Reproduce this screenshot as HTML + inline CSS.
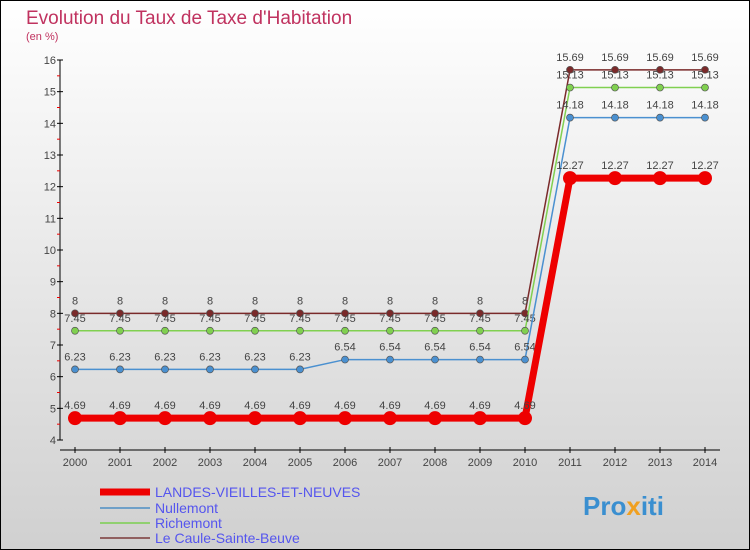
<!DOCTYPE html>
<html><head><meta charset="utf-8"><style>
body{margin:0}
#c{width:750px;height:550px;position:relative;overflow:hidden;font-family:"Liberation Sans",sans-serif}
</style></head><body>
<div id="c">
<svg id="s" width="750" height="550" xmlns="http://www.w3.org/2000/svg">
<defs><linearGradient id="bg" x1="0" y1="0" x2="0" y2="1"><stop offset="0" stop-color="#ffffff"/><stop offset="1" stop-color="#d0d0d0"/></linearGradient></defs>
<rect x="0.5" y="0.5" width="749" height="549" fill="url(#bg)" stroke="#000"/>
<text x="26" y="24" font-size="19" fill="#c0325f">Evolution du Taux de Taxe d'Habitation</text>
<text x="26" y="40" font-size="11" fill="#c0325f">(en %)</text>
<g id="plot"></g>
<g id="legend">
<line x1="100" y1="492" x2="150" y2="492" stroke="#e00" stroke-width="7"/>
<text x="155" y="497" font-size="14" fill="#5555ee">LANDES-VIEILLES-ET-NEUVES</text>
<line x1="100" y1="508" x2="150" y2="508" stroke="#6fa0c8" stroke-width="2"/>
<text x="155" y="513" font-size="14" fill="#5555ee">Nullemont</text>
<line x1="100" y1="523" x2="150" y2="523" stroke="#90d070" stroke-width="2"/>
<text x="155" y="528" font-size="14" fill="#5555ee">Richemont</text>
<line x1="100" y1="538" x2="150" y2="538" stroke="#906060" stroke-width="2"/>
<text x="155" y="543" font-size="14" fill="#5555ee">Le Caule-Sainte-Beuve</text>
</g>
<text x="583" y="515" font-size="26" font-weight="bold" fill="#3a8fd0">Pro<tspan fill="#f0a020">x</tspan>iti</text>
</svg>
</div>
<script>
const years=[2000,2001,2002,2003,2004,2005,2006,2007,2008,2009,2010,2011,2012,2013,2014];
const yTicks=[4,5,6,7,8,9,10,11,12,13,14,15,16];
const landes=[4.69,4.69,4.69,4.69,4.69,4.69,4.69,4.69,4.69,4.69,4.69,12.27,12.27,12.27,12.27];
const nullemont=[6.23,6.23,6.23,6.23,6.23,6.23,6.54,6.54,6.54,6.54,6.54,14.18,14.18,14.18,14.18];
const richemont=[7.45,7.45,7.45,7.45,7.45,7.45,7.45,7.45,7.45,7.45,7.45,15.13,15.13,15.13,15.13];
const caule=[8,8,8,8,8,8,8,8,8,8,8,15.69,15.69,15.69,15.69];
const X=i=>75+i*45, Y=v=>440-(v-4)*(380/12);
const NS='http://www.w3.org/2000/svg', g=document.getElementById('plot');
function mk(t,a,p){const e=document.createElementNS(NS,t);for(const k in a)e.setAttribute(k,a[k]);(p||g).appendChild(e);return e;}
let ax=mk('line',{x1:60,y1:60,x2:60,y2:440,stroke:'#000'});


let bx=mk('line',{x1:60,y1:450,x2:720,y2:450,stroke:'#000'});


yTicks.forEach(v=>{
 mk('line',{x1:57,y1:Y(v),x2:63,y2:Y(v),stroke:'#000'});
 if(v<16) mk('line',{x1:57,y1:Y(v+0.5),x2:60,y2:Y(v+0.5),stroke:'#e00'});
 const t=mk('text',{x:56,y:Y(v)+4,'font-size':11,fill:'#444','text-anchor':'end'});t.textContent=v;
 
 
});
years.forEach((yr,i)=>{
 mk('line',{x1:X(i),y1:447,x2:X(i),y2:453,stroke:'#000'});
 const t=mk('text',{x:X(i),y:466,'font-size':11,fill:'#444','text-anchor':'middle'});t.textContent=yr;
 
 
});
function series(vals,col,w,r,name){
 const p=mk('polyline',{points:vals.map((v,i)=>X(i)+','+Y(v)).join(' '),fill:'none',stroke:col,'stroke-width':w});
 
 
 vals.forEach((v,i)=>{
  const c=mk('circle',{cx:X(i),cy:Y(v),r:r,fill:col,stroke:'#555','stroke-width':r>4?0:0.7});
  
  
  const t=mk('text',{x:X(i),y:Y(v)-9,'font-size':11,fill:'#444','text-anchor':'middle'});t.textContent=v;
  
  
 });
}
series(caule,'#7a2a2a',1.5,3.5,'caule');
series(richemont,'#80d050',1.5,3.5,'richemont');
series(nullemont,'#4a90d0',1.5,3.5,'nullemont');
series(landes,'#ee0000',7,7,'landes');
</script>
</body></html>
